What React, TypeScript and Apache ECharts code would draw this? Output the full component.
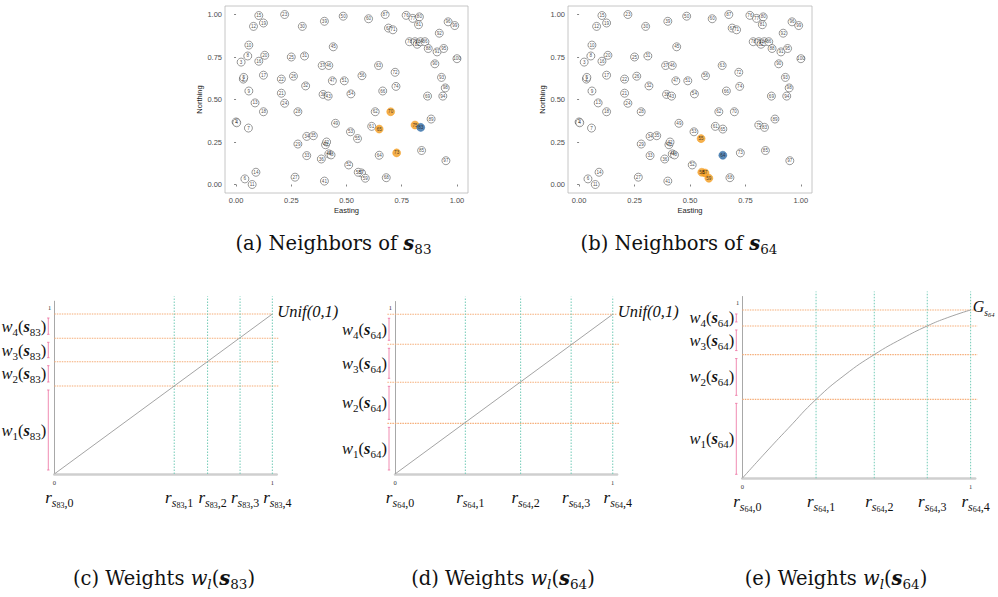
import React, { useEffect, useRef } from "react";
import * as echarts from "echarts";

// ---------- Panels (a)/(b): site locations ----------
const siteIds = Array.from({ length: 100 }, (_, i) => i + 1);
const easting = [
  0.000, 0.033, 0.023, 0.003, 0.035, 0.040, 0.056, 0.053, 0.058, 0.058,
  0.073, 0.079, 0.086, 0.090, 0.103, 0.103, 0.124, 0.124, 0.124, 0.130,
  0.205, 0.205, 0.220, 0.220, 0.250, 0.260, 0.267, 0.280, 0.280, 0.300,
  0.310, 0.315, 0.320, 0.320, 0.350, 0.386, 0.390, 0.394, 0.400, 0.405,
  0.400, 0.410, 0.417, 0.420, 0.440, 0.420, 0.436, 0.430, 0.450, 0.485,
  0.490, 0.510, 0.518, 0.520, 0.550, 0.570, 0.568, 0.553, 0.585, 0.600,
  0.614, 0.630, 0.645, 0.648, 0.648, 0.664, 0.690, 0.680, 0.867, 0.700,
  0.710, 0.720, 0.727, 0.724, 0.810, 0.770, 0.800, 0.785, 0.810, 0.830,
  0.826, 0.820, 0.836, 0.835, 0.840, 0.855, 0.675, 0.870, 0.883, 0.900,
  0.910, 0.920, 0.930, 0.936, 0.940, 0.960, 0.950, 0.947, 0.990, 1.000,
];
const northing = [
  0.368, 0.620, 0.720, 0.363, 0.630, 0.033, 0.332, 0.756, 0.550, 0.820,
  0.000, 0.930, 0.480, 0.072, 0.994, 0.725, 0.643, 0.428, 0.950, 0.760,
  0.537, 0.620, 1.000, 0.478, 0.750, 0.637, 0.043, 0.428, 0.238, 0.930,
  0.756, 0.580, 0.170, 0.283, 0.287, 0.150, 0.700, 0.530, 0.960, 0.234,
  0.020, 0.250, 0.520, 0.180, 0.810, 0.700, 0.610, 0.174, 0.360, 0.990,
  0.610, 0.115, 0.310, 0.533, 0.270, 0.640, 0.068, 0.072, 0.037, 0.975,
  0.342, 0.428, 0.700, 0.172, 0.326, 0.550, 0.920, 0.040, 0.520, 0.428,
  0.910, 0.660, 0.186, 0.577, 0.350, 0.995, 0.977, 0.840, 0.840, 0.986,
  0.940, 0.825, 0.336, 0.840, 0.200, 0.840, 1.000, 0.800, 0.385, 0.710,
  0.780, 0.890, 0.630, 0.520, 0.800, 0.957, 0.140, 0.568, 0.935, 0.740,
];
const tickValues = [0, 0.25, 0.5, 0.75, 1];
const targetA = 83;
const neighborsA = [65, 70, 73, 75];
const targetB = 64;
const neighborsB = [55, 57, 58, 59];

// ---------- Panel (c): uniform, s83 ----------
const cutsC = [0, 0.55, 0.703, 0.852, 1];
const levelsC = [0, 0.55, 0.702, 0.848, 1];
const unifX = [0, 1];
const unifY = [0, 1];
// ---------- Panel (d): uniform, s64 ----------
const cutsD = [0, 0.323, 0.577, 0.809, 1];
const levelsD = [0, 0.317, 0.574, 0.812, 1];
// ---------- Panel (e): G, s64 ----------
const cutsE = [0, 0.323, 0.578, 0.81, 1];
const levelsE = [0, 0.469, 0.735, 0.905, 1];
const gX = [0, 0.1, 0.2, 0.323, 0.45, 0.578, 0.7, 0.81, 0.9, 1];
const gY = [0, 0.15, 0.295, 0.469, 0.615, 0.735, 0.83, 0.905, 0.955, 1];

const ORANGE = "#f39c1f";
const BLUE = "#2f6ca6";
const LINE_ORANGE = "#f5ad78";
const LINE_GREEN = "#72cbb6";
const PINK = "#ec6fa0";
const SERIF = "Liberation Serif";
const CAP = "DejaVu Serif";
const SANS = "Liberation Sans";

function scatterAxes(k: number) {
  const common = {
    type: "value",
    gridIndex: k,
    min: -0.05,
    max: 1.05,
    splitLine: { show: false },
    axisLine: { show: false },
    axisTick: { show: true, length: 2, customValues: tickValues, lineStyle: { color: "#333", width: 0.6 } },
    axisLabel: {
      customValues: tickValues,
      formatter: (v: number) => v.toFixed(2),
      fontSize: 7.5,
      fontFamily: SANS,
      color: "#4d4d4d",
      margin: 3,
    },
    nameLocation: "middle",
    nameTextStyle: { fontSize: 7.5, fontFamily: SANS, color: "#1a1a1a" },
  };
  return {
    x: { ...common, name: "Easting", nameGap: 13 },
    y: { ...common, name: "Northing", nameGap: 19 },
  };
}

function scatterSeries(k: number, target: number, nbrs: number[]) {
  const base: any[] = [];
  const hi: any[] = [];
  siteIds.forEach((id, i) => {
    const item: any = { name: String(id), value: [easting[i], northing[i]] };
    if (id === target) {
      item.itemStyle = { color: BLUE, borderColor: BLUE };
      hi.push(item);
    } else if (nbrs.includes(id)) {
      item.itemStyle = { color: ORANGE, borderColor: ORANGE };
      hi.push(item);
    } else base.push(item);
  });
  const common = {
    type: "scatter",
    xAxisIndex: k,
    yAxisIndex: k,
    symbol: "circle",
    symbolSize: 8,
    silent: true,
    itemStyle: { color: "#ffffff", borderColor: "#2a2a2a", borderWidth: 0.6 },
    label: {
      show: true,
      position: "inside",
      formatter: "{b}",
      fontSize: 4.6,
      color: "#1a1a1a",
      fontFamily: SANS,
    },
  };
  return [
    { ...common, data: base, z: 2 },
    { ...common, data: hi, z: 3 },
  ];
}

function weightAxes(k: number, xmax: number, ymax: number) {
  return {
    x: {
      type: "value",
      gridIndex: k,
      min: 0,
      max: xmax,
      splitLine: { show: false },
      axisTick: { show: false },
      axisLine: { show: true, lineStyle: { color: "#cfcfcf", width: 2.5 } },
      axisLabel: { customValues: [0, 1], fontSize: 6.5, fontFamily: SERIF, color: "#333", margin: 5 },
    },
    y: {
      type: "value",
      gridIndex: k,
      min: 0,
      max: ymax,
      splitLine: { show: false },
      axisTick: { show: false },
      axisLine: { show: true, lineStyle: { color: "#a8a8a8", width: 1 } },
      axisLabel: {
        customValues: [1],
        fontSize: 6.5,
        fontFamily: SERIF,
        color: "#333",
        margin: 3,
        verticalAlign: "bottom",
        lineHeight: 14,
      },
    },
  };
}

const wRich = {
  w: { fontFamily: SERIF, fontStyle: "italic", fontSize: 16.5, lineHeight: 22, fill: "#111" },
  p: { fontFamily: SERIF, fontSize: 16.5, lineHeight: 22, fill: "#111" },
  s: { fontFamily: SERIF, fontStyle: "italic", fontWeight: "bold", fontSize: 16.5, lineHeight: 22, fill: "#111" },
  sub: { fontFamily: SERIF, fontSize: 11, lineHeight: 13, verticalAlign: "bottom", fill: "#111" },
};
const rRich = {
  r: { fontFamily: SERIF, fontStyle: "italic", fontSize: 17, lineHeight: 24, fill: "#111" },
  s: { fontFamily: SERIF, fontStyle: "italic", fontSize: 12, lineHeight: 13, verticalAlign: "bottom", fill: "#111" },
  ss: { fontFamily: SERIF, fontSize: 8, lineHeight: 7, verticalAlign: "bottom", fill: "#111" },
  c: { fontFamily: SERIF, fontSize: 12, lineHeight: 13, verticalAlign: "bottom", fill: "#111" },
};

function weightSeries(
  k: number,
  site: string,
  cuts: number[],
  levels: number[],
  curveX: number[],
  curveY: number[],
  endText: string,
  endRich: any,
  smooth: boolean,
  hx0: number,
  topEnd: number,
  endDistance: number
) {
  const curve = {
    type: "line",
    xAxisIndex: k,
    yAxisIndex: k,
    data: curveX.map((x, i) => [x, curveY[i]]),
    symbol: "none",
    smooth,
    silent: true,
    z: 3,
    lineStyle: { color: "#9a9a9a", width: 0.9 },
    endLabel: {
      show: true,
      formatter: endText,
      distance: endDistance,
      offset: [0, -3],
      fontFamily: SERIF,
      fontStyle: "italic",
      fontSize: 16.5,
      color: "#111",
      rich: endRich,
    },
  };
  const hlines = {
    type: "custom",
    xAxisIndex: k,
    yAxisIndex: k,
    silent: true,
    z: 2,
    data: levels.slice(1).map((v) => [v, v]),
    renderItem: (_p: any, api: any) => {
      const y = api.value(1);
      const end = y >= 0.999 ? topEnd : 1.03;
      const a = api.coord([hx0, y]);
      const b = api.coord([end, y]);
      return {
        type: "line",
        shape: { x1: a[0], y1: a[1], x2: b[0], y2: b[1] },
        style: { stroke: LINE_ORANGE, lineWidth: 1.1, lineDash: [1.5, 1] },
      };
    },
  };
  const vlines = {
    type: "custom",
    xAxisIndex: k,
    yAxisIndex: k,
    silent: true,
    z: 2,
    data: cuts.slice(1).map((c) => [c, 0]),
    renderItem: (_p: any, api: any) => {
      const x = api.value(0);
      const a = api.coord([x, 0]);
      const b = api.coord([x, 1.11]);
      return {
        type: "line",
        shape: { x1: a[0], y1: a[1], x2: b[0], y2: b[1] },
        style: { stroke: LINE_GREEN, lineWidth: 1, lineDash: [1.5, 1.5] },
      };
    },
  };
  const brackets = {
    type: "custom",
    xAxisIndex: k,
    yAxisIndex: k,
    silent: true,
    z: 4,
    data: levels.slice(1).map((v, i) => [levels[i], v]),
    renderItem: (p: any, api: any) => {
      const lo = api.coord([0, api.value(0)]);
      const hiP = api.coord([0, api.value(1)]);
      const x = lo[0] - 6;
      const yb = lo[1] - 4;
      const yt = hiP[1] + 4;
      const l = p.dataIndex + 1;
      return {
        type: "group",
        children: [
          { type: "line", shape: { x1: x, y1: yt, x2: x, y2: yb }, style: { stroke: PINK, lineWidth: 0.8 } },
          { type: "line", shape: { x1: x - 1.2, y1: yt, x2: x + 1.2, y2: yt }, style: { stroke: PINK, lineWidth: 0.8 } },
          { type: "line", shape: { x1: x - 1.2, y1: yb, x2: x + 1.2, y2: yb }, style: { stroke: PINK, lineWidth: 0.8 } },
          {
            type: "text",
            x: x - 2,
            y: (yt + yb) / 2,
            style: {
              text: `{w|w}{sub|${l}}{p|(}{s|s}{sub|${site}}{p|)}`,
              rich: wRich,
              align: "right",
              verticalAlign: "middle",
            },
          },
        ],
      };
    },
  };
  const rlabels = {
    type: "custom",
    xAxisIndex: k,
    yAxisIndex: k,
    silent: true,
    z: 4,
    data: cuts.map((c) => [c, 0]),
    renderItem: (p: any, api: any) => {
      const a = api.coord([api.value(0), 0]);
      return {
        type: "text",
        x: a[0] + 5,
        y: a[1] + 23,
        style: {
          text: `{r|r}{s|s}{ss|${site}}{c|,${p.dataIndex}}`,
          rich: rRich,
          align: "center",
          verticalAlign: "middle",
        },
      };
    },
  };
  return [hlines, vlines, curve, brackets, rlabels];
}

const capRich = {
  t: { fontFamily: CAP, fontSize: 19.5, lineHeight: 26, fill: "#111" },
  s: { fontFamily: CAP, fontSize: 19.5, fontStyle: "italic", fontWeight: "bold", lineHeight: 26, fill: "#111" },
  w: { fontFamily: CAP, fontSize: 19.5, fontStyle: "italic", lineHeight: 26, fill: "#111" },
  l: { fontFamily: CAP, fontSize: 13.5, fontStyle: "italic", lineHeight: 15, verticalAlign: "bottom", fill: "#111" },
  sub: { fontFamily: CAP, fontSize: 13.5, lineHeight: 15, verticalAlign: "bottom", fill: "#111" },
};

function caption(x: number, y: number, text: string) {
  return {
    type: "text",
    x,
    y,
    silent: true,
    style: { text, rich: capRich, align: "center", verticalAlign: "middle" },
  };
}

export default function App() {
  const ref = useRef<HTMLDivElement>(null);
  useEffect(() => {
    if (!ref.current) return;
    const chart = echarts.init(ref.current, undefined, { renderer: "svg" });
    const aA = scatterAxes(0);
    const aB = scatterAxes(1);
    const aC = weightAxes(2, 1.02, 1.08);
    const aD = weightAxes(3, 1.02, 1.08);
    const aE = weightAxes(4, 1.02, 1.08);
    const gRich = {
      g: { fontFamily: SERIF, fontStyle: "italic", fontSize: 16, lineHeight: 22, color: "#111" },
      s: { fontFamily: SERIF, fontStyle: "italic", fontSize: 9.5, lineHeight: 11, verticalAlign: "bottom", color: "#111" },
      n: { fontFamily: SERIF, fontSize: 6.5, lineHeight: 6, verticalAlign: "bottom", color: "#111" },
    };
    const option: any = {
      animation: false,
      backgroundColor: "#ffffff",
      grid: [
        { left: 225, top: 6, width: 243, height: 187, show: true, borderColor: "#b8b8b8", borderWidth: 0.8 },
        { left: 568, top: 6, width: 244, height: 187, show: true, borderColor: "#b8b8b8", borderWidth: 0.8 },
        { left: 54.3, top: 301.2, width: 222.4, height: 172.8 },
        { left: 395, top: 301.5, width: 222.1, height: 172.5 },
        { left: 742.3, top: 296.5, width: 232.9, height: 181.8 },
      ],
      xAxis: [aA.x, aB.x, aC.x, aD.x, aE.x],
      yAxis: [aA.y, aB.y, aC.y, aD.y, aE.y],
      series: [
        ...scatterSeries(0, targetA, neighborsA),
        ...scatterSeries(1, targetB, neighborsB),
        ...weightSeries(2, "83", cutsC, levelsC, unifX, unifY, "Unif(0,1)", undefined, false, 0, 1.0, 5),
        ...weightSeries(3, "64", cutsD, levelsD, unifX, unifY, "Unif(0,1)", undefined, false, -0.035, 1.02, 5),
        ...weightSeries(4, "64", cutsE, levelsE, gX, gY, "{g|G}{s|s}{n|64}", gRich, true, 0, 1.03, 2),
      ],
      graphic: [
        caption(333.5, 243, "{t|(a) Neighbors of }{s|s}{sub|83}"),
        caption(679, 243, "{t|(b) Neighbors of }{s|s}{sub|64}"),
        caption(164, 578, "{t|(c) Weights }{w|w}{l|l}{t|(}{s|s}{sub|83}{t|)}"),
        caption(503, 578, "{t|(d) Weights }{w|w}{l|l}{t|(}{s|s}{sub|64}{t|)}"),
        caption(836, 578, "{t|(e) Weights }{w|w}{l|l}{t|(}{s|s}{sub|64}{t|)}"),
      ],
    };
    chart.setOption(option);
    return () => chart.dispose();
  }, []);
  return (
    <div
      ref={ref}
      style={{ position: "absolute", left: 0, top: 0, width: 998, height: 597, background: "#fff" }}
    />
  );
}
